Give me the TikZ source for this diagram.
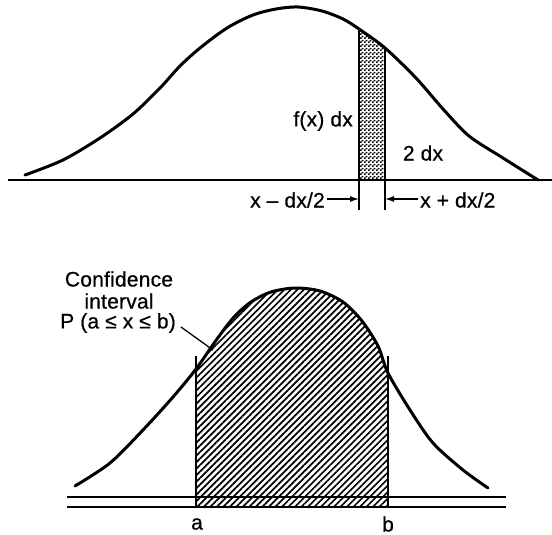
\documentclass[tikz,border=0pt]{standalone}
\usepackage{fontspec}
\setmainfont{Liberation Sans}[LetterSpace=1,FakeBold=0.6]
\usetikzlibrary{patterns,patterns.meta,arrows.meta}
\pgfdeclarepatternformonly{finecheck}{\pgfpointorigin}{\pgfqpoint{4pt}{4pt}}{\pgfqpoint{4pt}{4pt}}{%
  \pgfpathrectangle{\pgfpointorigin}{\pgfqpoint{2pt}{2pt}}%
  \pgfpathrectangle{\pgfqpoint{2pt}{2pt}}{\pgfqpoint{2pt}{2pt}}%
  \pgfusepath{fill}}
\tikzset{
  curve/.style={line width=3pt, line cap=round, line join=round},
  axis/.style={line width=1.6pt},
  edge/.style={line width=1.5pt},
  lbl/.style={font=\fontsize{21}{24}\selectfont, inner sep=0pt},
  arr/.style={line width=1.2pt, -{Latex[length=9pt,width=6pt]}},
  leader/.style={line width=1.3pt}
}
\begin{document}
\begin{tikzpicture}[x=1pt,y=-1pt]
\useasboundingbox (0,0) rectangle (552,535);
% ---------- top diagram ----------
\def\topcurve{(25,175) (63,160) (100,138) (133,114) (160,88) (180,66) (200,48) (227,28) (253,15) (276,9) (298,7) (322,11) (343,19) (359,29) (385,48) (416,78) (443,109) (469,136) (503,158) (538,180)}
\begin{scope}
  \clip plot[smooth] coordinates {\topcurve} -- (538,180) -- (25,180) -- cycle;
  \fill[pattern=finecheck] (359,0) rectangle (385,180);
\end{scope}
\draw[curve] plot[smooth] coordinates {\topcurve};
\draw[axis] (8,180) -- (552,180);
\coordinate (sl) at (359,210);
\coordinate (sr) at (385,210);
\draw[edge] (359,29) -- (sl);
\draw[edge] (385,48) -- (sr);
\node[lbl, anchor=east] (fx) at (353,121) {f(x) dx};
\node[lbl] (twodx) at (423,153) {2 dx};
\node[lbl, anchor=east] (xm) at (325,200) {x – dx/2};
\node[lbl, anchor=west] (xp) at (420,200) {x + dx/2};
\coordinate (am) at (359,199);
\coordinate (ap) at (385,199);
\draw[arr] (xm.east) ++(2,-1) -- (am);
\draw[arr] (xp.west) ++(-2,-1) -- (ap);
% ---------- bottom diagram ----------
\def\botcurve{(75,486) (110,463) (143,430) (173,397) (196,369) (217,339) (234,317) (251,302) (271,292) (295,288) (320,291) (343,302) (362,321) (378,346) (388,373) (410,410) (433,443) (463,470) (488,488)}
\begin{scope}
  \clip plot[smooth] coordinates {\botcurve} -- (488,507) -- (75,507) -- cycle;
  \fill[pattern={Lines[angle=45,distance=4.6pt,line width=1.7pt]}] (196,250) rectangle (388,507);
\end{scope}
\draw[curve] plot[smooth] coordinates {\botcurve};
\draw[axis] (67,497) -- (506,497);
\draw[axis] (67,507) -- (506,507);
\coordinate (atop) at (196,356);
\coordinate (abot) at (196,507);
\coordinate (btop) at (388,356);
\coordinate (bbot) at (388,507);
\draw[edge] (atop) -- (abot);
\draw[edge] (btop) -- (bbot);
\node[lbl] (conf) at (119,279) {Confidence};
\node[lbl] (intv) at (119,301) {interval};
\node[lbl] (prob) at (118,323) {P (a ≤ x ≤ b)};
\coordinate (lend) at (213,350);
\draw[leader] (prob.east) ++(5,4) -- (lend);
\node[lbl] (la) at (197,524) {a};
\node[lbl] (lb) at (388,524) {b};
\end{tikzpicture}
\end{document}
